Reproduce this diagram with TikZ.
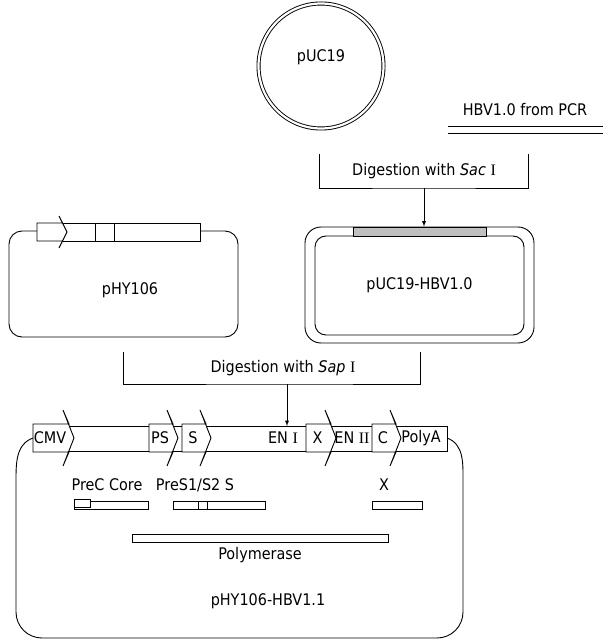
\documentclass[tikz,border=0pt]{standalone}
\usepackage{fontspec}
\setmainfont{DejaVu Sans}[FakeStretch=0.9]
\newfontfamily\romfont{Liberation Serif}
\usetikzlibrary{arrows, positioning}

\definecolor{insert}{gray}{0.75}
\newcommand{\rmn}[1]{{\romfont #1}}

% gene arrow: name, left end, end of body, label
\newcommand{\genearrow}[4]{%
	\draw[gene] (#2,424) -- (#3+6,424) -- (#3,410) -- (#3+11,438) -- (#3,466) -- (#3+6,452) -- (#2,452) -- cycle;
	\node (#1) at ({(#2+#3)/2+2},438) {#4};}

\begin{document}
\begin{tikzpicture}[x=1pt, y=-1pt, line width=0.9pt,
	every node/.style={font=\fontsize{16}{19}\selectfont, inner sep=0pt},
	gene/.style={draw, fill=white},
	orf/.style={draw, fill=white}]
	
	\useasboundingbox (0,0) rectangle (603,639);
	
	\begin{scope}
	\node[circle, draw, double, double distance=2.2pt, minimum size=125pt] (puc) at (321,66) {};
	\node (puclab) at (321,57) {pUC19};
	
	\node (pcr) at (525,110) {HBV1.0 from PCR};
	\draw (448,126) -- (603,126);
	\draw (448,133) -- (603,133);
	
	\coordinate (sacL) at (319,154);
	\coordinate (sacR) at (528,154);
	\coordinate (sacM) at (424,188);
	\draw (sacL) |- (sacM) -| (sacR);
	\node (sac) at (424,171) {Digestion with \textit{Sac}\ \rmn{I}};
	\end{scope}
	
	\begin{scope}
	\node[draw, rounded corners=13pt, minimum width=229pt, minimum height=106pt] (phy) at (123.5,284) {};
	\node (phylab) at (130,290) {pHY106};
	\draw[gene] (62,223) rectangle (200,241);
	\draw (95,223) -- (95,241);
	\draw (114,223) -- (114,241);
	\draw[gene] (37,223) -- (62.5,223) -- (59,216) -- (67,232) -- (59,248) -- (62.5,241) -- (37,241) -- cycle;
	
	\node[draw, rounded corners=16pt, minimum width=229pt, minimum height=116pt] (hbvbox) at (419.5,285) {};
	\node[draw, rounded corners=11pt, minimum width=209pt, minimum height=99pt] (hbvin) at (419.5,285.5) {pUC19-HBV1.0};
	\draw[fill=insert] (353,227) rectangle (486,236);
	\draw[-latex] (sacM) -- (sacM |- hbvbox.north);
	\end{scope}
	
	\coordinate (sapL) at (123,352);
	\coordinate (sapR) at (420,352);
	\coordinate (sapM) at (287,384);
	\draw (sapL) |- (sapM) -| (sapR);
	\node (sap) at (283,368) {Digestion with \textit{Sap}\ \rmn{I}};
	
	\begin{scope}
	\draw (33,438) to[out=200, in=90] (16,482) -- (16,612) to[out=-90, in=180] (42,638) -- (437,638) to[out=0, in=-90] (463,612) -- (463,482) to[out=90, in=-20] (447,438);
	
	\node[draw, fill=white, minimum width=384pt, minimum height=25pt] (bar) at (255,439) {};
	\draw[-latex] (sapM) -- (sapM |- bar.north);
	
	\genearrow{cmv}{33}{63}{CMV}
	\genearrow{ps}{149}{167}{PS}
	\genearrow{s}{182}{200}{S}
	\genearrow{x}{306}{325}{X}
	\genearrow{c}{372}{390}{C}
	\node (en1) at (283,438) {EN \rmn{I}};
	\node (en2) at (352,438) {EN \rmn{II}};
	\node (polya) at (421,438) {PolyA};
	
	\node (prec) at (107,485) {PreC Core};
	\draw[orf] (74,501) rectangle (148,509);
	\draw[orf] (74,499) rectangle (90,507);
	\node (pres) at (195,485) {PreS1/S2 S};
	\draw[orf] (173,501) rectangle (265,509);
	\draw (198,501) -- (198,509);
	\draw (207,501) -- (207,509);
	\node (xorf) at (384,485) {X};
	\draw[orf] (372,501) rectangle (422,509);
	\draw[orf] (132,534) rectangle (388,542);
	\node (pol) at (260,555) {Polymerase};
	\node (hbv11) at (268,601) {pHY106-HBV1.1};
	\end{scope}
	
\end{tikzpicture}
\end{document}
